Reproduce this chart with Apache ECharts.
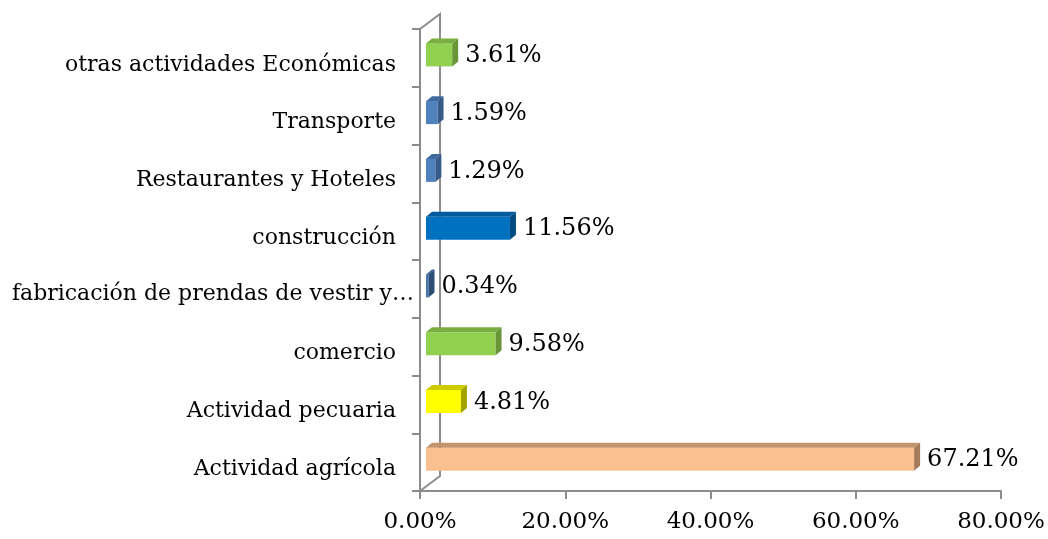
<!DOCTYPE html>
<html>
<head>
<meta charset="utf-8">
<script src="https://cdn.jsdelivr.net/npm/echarts@6/dist/echarts.min.js"></script>
<style>
	html, body { margin: 0; padding: 0; background: #fff; }
	#chart { width: 1048px; height: 539px; }
</style>
</head>
<body>
<div id="chart"></div>
<script>
	// categories bottom -> top
	var categories = ['Actividad agrícola', 'Actividad pecuaria', 'comercio', 'fabricación de prendas de vestir y…',
		'construcción', 'Restaurantes y Hoteles', 'Transporte', 'otras actividades Económicas'];
	var values = [67.21, 4.81, 9.58, 0.34, 11.56, 1.29, 1.59, 3.61];
	var xTicks = [0, 20, 40, 60, 80];

	// front / top / side colours for each bar
	var faces = [
		['#fac090', '#c6946b', '#a67c5a'],
		['#ffff00', '#cccc00', '#a3a300'],
		['#92d050', '#79ae41', '#689637'],
		['#4473ad', '#365c8c', '#2c4d76'],
		['#0070c0', '#005b9c', '#004c82'],
		['#4f81bd', '#3f6a9e', '#365b88'],
		['#4f81bd', '#3f6a9e', '#365b88'],
		['#92d050', '#79ae41', '#689637']
	];

	var FONT = '"DejaVu Serif", serif';
	var chart = echarts.init(document.getElementById('chart'));

	function drawBar(params, api) {
		var i = params.dataIndex;
		var v = api.value(0);
		var p0 = api.coord([0, api.value(1)]);
		var p1 = api.coord([v, api.value(1)]);
		var h = 23, dx = 6, dy = 5;
		var x0 = p0[0] + 6, x1 = p1[0] + 6;
		var yc = p0[1] - 3;
		var y = yc - h / 2;
		var c = faces[i];
		return {
			type: 'group',
			children: [
				{ type: 'rect', shape: { x: x0, y: y, width: x1 - x0, height: h }, style: { fill: c[0] } },
				{ type: 'polygon', shape: { points: [[x0, y], [x0 + dx, y - dy], [x1 + dx, y - dy], [x1, y]] }, style: { fill: c[1] } },
				{ type: 'polygon', shape: { points: [[x1, y], [x1 + dx, y - dy], [x1 + dx, y + h - dy], [x1, y + h]] }, style: { fill: c[2] } },
				{ type: 'text', style: { text: v.toFixed(2) + '%', x: x1 + dx + 7, y: yc + 1, verticalAlign: 'middle',
					font: '24px ' + FONT, fill: '#000' } }
			]
		};
	}

	// back wall of the 3d frame
	function drawWall(params, api) {
		if (params.dataIndex > 0) return;
		var r = params.coordSys;
		var bx = 20, by = 15;
		var st = { stroke: '#8c8c8c', lineWidth: 2, fill: null };
		return {
			type: 'group',
			silent: true,
			children: [
				{ type: 'polyline', shape: { points: [[r.x, r.y], [r.x + bx, r.y - by], [r.x + bx, r.y + r.height - by], [r.x, r.y + r.height]] }, style: st }
			]
		};
	}

	var option = {
		animation: false,
		grid: { left: 420, right: 47, top: 29, bottom: 48, outerBoundsMode: 'none', containLabel: false },
		xAxis: {
			type: 'value',
			min: 0, max: 80, interval: 20,
			axisLine: { show: true, lineStyle: { color: '#8c8c8c', width: 2 } },
			axisTick: { show: true, length: 8, lineStyle: { color: '#8c8c8c', width: 2 } },
			splitLine: { show: false },
			axisLabel: {
				margin: 20, color: '#000', fontFamily: FONT, fontSize: 23,
				formatter: function (v) { return xTicks.indexOf(v) >= 0 ? v.toFixed(2) + '%' : ''; }
			}
		},
		yAxis: {
			type: 'category',
			data: categories,
			axisLine: { show: true, lineStyle: { color: '#8c8c8c', width: 2 } },
			axisTick: { show: true, length: 8, lineStyle: { color: '#8c8c8c', width: 2 } },
			axisLabel: {
				margin: 24, color: '#000', fontFamily: FONT, fontSize: 22, verticalAlign: 'top', lineHeight: 14,
				formatter: function (v) { return v.length > 30 ? '{long|' + v + '}' : v; },
				rich: { long: { fontFamily: FONT, fontSize: 22, color: '#000', lineHeight: 10, padding: [0, -18, 0, 0] } }
			}
		},
		series: [
			{
				type: 'custom',
				renderItem: drawWall,
				data: [[0, 0]],
				z: 1
			},
			{
				type: 'custom',
				renderItem: drawBar,
				encode: { x: 0, y: 1 },
				data: values.map(function (v, i) { return [v, i]; }),
				z: 2
			}
		]
	};
	chart.setOption(option);
</script>
</body>
</html>
